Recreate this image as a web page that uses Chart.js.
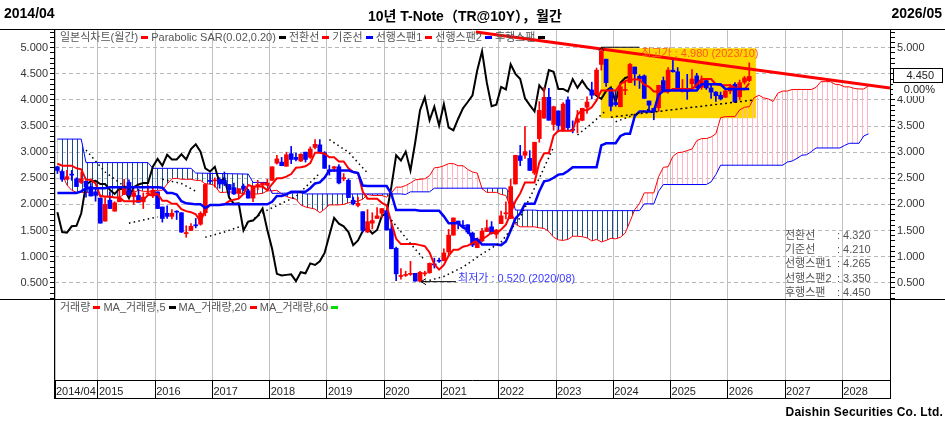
<!DOCTYPE html>
<html lang="ko">
<head>
<meta charset="utf-8">
<title>10년 T-Note 월간</title>
<script src="https://cdn.jsdelivr.net/npm/chart.js@4.4.1/dist/chart.umd.min.js"></script>
<style>
  html, body { margin: 0; padding: 0; background: #fff; }
  body { position: relative; width: 945px; height: 424px; overflow: hidden;
         font-family: "Liberation Sans", "Noto Sans CJK KR", sans-serif; }
  #chart { position: absolute; left: 0; top: 0; }
  .txt { position: absolute; white-space: nowrap; }
  .head { top: 5px; font-size: 14px; font-weight: bold; color: #000; }
  .legend { left: 60px; font-size: 11px; line-height: 13px; color: #555; }
  .legend i { display: inline-block; width: 7px; height: 3px; margin: 0 3px 2px 3px; vertical-align: middle; }
  .ichi { left: 785px; font-size: 11px; line-height: 14.2px; color: #555; }
  .ichi span { display: inline-block; width: 52px; }
</style>
</head>
<body>
<canvas id="chart" width="945" height="424"></canvas>
<div class="txt head" style="left:4px">2014/04</div>
<div class="txt head" style="left:368px">10년 T-Note（TR@10Y），월간</div>
<div class="txt head" style="right:3px">2026/05</div>
<div class="txt legend" id="mainLegend" style="top:31px"></div>
<div class="txt legend" id="volLegend" style="top:301px"></div>
<div class="txt ichi" id="ichiTable" style="top:228px"></div>
<div class="txt" style="right:2px;top:405px;font-size:12px;font-weight:bold;letter-spacing:0.2px">Daishin Securities Co. Ltd.</div>
<script>
// 10년 T-Note monthly chart with Ichimoku cloud

// candles, one per month from 2014/04 to 2026/05
const opens = [
  2.72, 2.63, 2.48, 2.57, 2.49, 2.42, 2.44, 2.34, 2.24,
  2.12, 1.68, 2.08, 1.87, 2.05, 2.19, 2.42, 2.15, 2.17, 2.05, 2.20, 2.16,
  2.24, 1.95, 1.83, 1.77, 1.87, 1.84, 1.44, 1.50, 1.60, 1.62, 1.84, 2.45,
  2.45, 2.48, 2.46, 2.38, 2.32, 2.21, 2.35, 2.26, 2.12, 2.34, 2.37, 2.37,
  2.46, 2.79, 2.81, 2.73, 2.97, 2.90, 2.83, 3.00, 2.90, 3.09, 3.14, 2.99,
  2.66, 2.69, 2.72, 2.49, 2.46, 2.08, 1.98, 1.86, 1.47, 1.64, 1.73, 1.83,
  1.88, 1.53, 1.16, 0.62, 0.64, 0.66, 0.68, 0.53, 0.67, 0.69, 0.86, 0.93,
  0.92, 1.09, 1.41, 1.68, 1.60, 1.61, 1.45, 1.17, 1.30, 1.48, 1.57, 1.43,
  1.63, 1.82, 1.73, 2.39, 2.93, 2.94, 2.88, 2.60, 3.26, 3.65, 4.05, 3.53,
  3.79, 3.41, 4.00, 3.43, 3.57, 3.61, 3.86, 4.19, 4.10, 4.68, 4.78, 4.22,
  3.95, 3.87, 4.18, 4.33, 4.63, 4.45, 4.46, 3.98, 3.84, 3.85, 4.37, 4.19,
  4.57, 4.54, 4.16, 4.17, 4.31, 4.46, 4.24, 4.37, 4.23, 4.15, 4.09, 4.05,
  4.17, 4.30, 4.06, 4.34, 4.37
];
const highs = [
  2.73, 2.66, 2.65, 2.65, 2.51, 2.62, 2.45, 2.40, 2.30,
  2.12, 2.13, 2.24, 2.05, 2.28, 2.48, 2.47, 2.28, 2.29, 2.22, 2.36, 2.32,
  2.24, 1.95, 1.97, 1.90, 1.88, 1.84, 1.59, 1.63, 1.73, 1.86, 2.40, 2.60,
  2.51, 2.51, 2.62, 2.38, 2.41, 2.30, 2.39, 2.29, 2.33, 2.46, 2.41, 2.48,
  2.72, 2.94, 2.90, 3.00, 3.11, 2.98, 2.97, 3.00, 3.10, 3.24, 3.24, 3.01,
  2.75, 2.73, 2.76, 2.59, 2.49, 2.14, 2.14, 1.86, 1.90, 1.84, 1.94, 1.92,
  1.88, 1.63, 1.18, 0.77, 0.72, 0.91, 0.68, 0.72, 0.72, 0.88, 0.97, 0.97,
  1.15, 1.52, 1.74, 1.68, 1.69, 1.61, 1.47, 1.36, 1.54, 1.70, 1.67, 1.52,
  1.87, 2.05, 2.48, 2.94, 3.13, 3.49, 3.03, 3.19, 3.97, 4.24, 4.22, 3.88,
  3.79, 3.95, 4.06, 3.60, 3.80, 3.84, 4.06, 4.34, 4.61, 4.98, 4.78, 4.22,
  4.18, 4.32, 4.34, 4.70, 4.63, 4.48, 4.48, 3.98, 3.84, 4.28, 4.44, 4.62,
  4.79, 4.62, 4.39, 4.49, 4.58, 4.51, 4.46, 4.40, 4.28, 4.16, 4.15, 4.19,
  4.30, 4.33, 4.38, 4.45, 4.71
];
const lows = [
  2.59, 2.44, 2.48, 2.46, 2.34, 2.40, 2.14, 2.16, 2.06,
  1.64, 1.68, 1.92, 1.87, 2.05, 2.19, 2.18, 2.00, 2.04, 1.92, 2.20, 2.13,
  1.92, 1.66, 1.73, 1.72, 1.71, 1.46, 1.37, 1.50, 1.55, 1.60, 1.78, 2.39,
  2.33, 2.31, 2.36, 2.18, 2.19, 2.13, 2.26, 2.12, 2.05, 2.28, 2.31, 2.35,
  2.46, 2.77, 2.74, 2.73, 2.78, 2.83, 2.82, 2.81, 2.88, 3.06, 2.99, 2.69,
  2.56, 2.63, 2.39, 2.45, 2.13, 1.99, 1.95, 1.47, 1.46, 1.53, 1.73, 1.74,
  1.51, 1.15, 0.54, 0.57, 0.62, 0.64, 0.53, 0.52, 0.63, 0.68, 0.78, 0.89,
  0.92, 1.04, 1.41, 1.53, 1.56, 1.44, 1.19, 1.17, 1.28, 1.48, 1.43, 1.35,
  1.63, 1.72, 1.73, 2.39, 2.74, 2.88, 2.65, 2.57, 3.19, 3.65, 3.61, 3.42,
  3.39, 3.40, 3.43, 3.37, 3.37, 3.60, 3.74, 4.02, 4.09, 4.57, 4.26, 3.79,
  3.88, 3.87, 4.10, 4.33, 4.28, 4.22, 4.03, 3.79, 3.62, 3.78, 4.17, 4.13,
  4.53, 4.21, 4.15, 4.01, 4.18, 4.23, 4.20, 4.20, 4.03, 3.97, 4.00, 4.05,
  4.12, 3.95, 4.00, 4.30, 4.35
];
const closes = [
  2.65, 2.48, 2.53, 2.56, 2.34, 2.49, 2.34, 2.16, 2.17,
  1.64, 2.00, 1.92, 2.03, 2.12, 2.35, 2.18, 2.22, 2.04, 2.14, 2.21, 2.27,
  1.92, 1.73, 1.77, 1.83, 1.85, 1.47, 1.46, 1.58, 1.59, 1.83, 2.38, 2.44,
  2.45, 2.39, 2.39, 2.28, 2.20, 2.30, 2.29, 2.12, 2.33, 2.38, 2.41, 2.41,
  2.72, 2.87, 2.74, 2.95, 2.86, 2.86, 2.96, 2.86, 3.06, 3.15, 3.01, 2.69,
  2.63, 2.72, 2.41, 2.51, 2.13, 2.01, 2.02, 1.50, 1.67, 1.69, 1.78, 1.92,
  1.51, 1.15, 0.67, 0.64, 0.65, 0.66, 0.53, 0.70, 0.68, 0.87, 0.84, 0.91,
  1.07, 1.41, 1.74, 1.63, 1.58, 1.47, 1.22, 1.31, 1.49, 1.55, 1.44, 1.51,
  1.78, 1.83, 2.34, 2.94, 2.84, 3.01, 2.65, 3.19, 3.80, 4.05, 3.61, 3.87,
  3.51, 3.92, 3.47, 3.42, 3.64, 3.84, 3.96, 4.09, 4.57, 4.93, 4.33, 3.88,
  3.91, 4.25, 4.20, 4.68, 4.50, 4.40, 4.03, 3.90, 3.78, 4.28, 4.17, 4.57,
  4.54, 4.21, 4.21, 4.16, 4.40, 4.23, 4.37, 4.23, 4.15, 4.08, 4.02, 4.17,
  4.24, 3.96, 4.33, 4.42, 4.45
];

// 전환선 (red) and 기준선 (blue), one value per candle
const conversionLine = [
  2.78, 2.74, 2.74, 2.74, 2.69, 2.67, 2.47, 2.47, 2.40,
  2.15, 2.15, 2.15, 2.13, 2.13, 2.06, 2.06, 2.06, 2.06, 2.08, 2.18, 2.18,
  2.20, 2.07, 2.07, 2.01, 2.01, 1.91, 1.87, 1.85, 1.81, 1.67, 1.89, 1.99,
  1.99, 1.99, 2.00, 2.06, 2.09, 2.11, 2.20, 2.37, 2.34, 2.34, 2.34, 2.27,
  2.39, 2.50, 2.50, 2.53, 2.58, 2.70, 2.71, 2.73, 2.79, 2.99, 2.99, 2.97,
  2.90, 2.90, 2.82, 2.82, 2.69, 2.62, 2.60, 2.24, 2.11, 2.11, 2.11, 2.03,
  1.98, 1.65, 1.34, 1.24, 1.24, 1.24, 1.24, 1.22, 1.20, 1.08, 0.85, 0.75,
  0.84, 1.02, 1.13, 1.13, 1.19, 1.21, 1.26, 1.32, 1.33, 1.39, 1.46, 1.44,
  1.52, 1.61, 1.83, 2.06, 2.21, 2.42, 2.42, 2.42, 2.80, 2.98, 2.98, 3.32,
  3.41, 3.41, 3.41, 3.41, 3.72, 3.81, 3.80, 3.86, 3.99, 4.18, 4.18, 4.18,
  4.18, 4.30, 4.36, 4.39, 4.39, 4.39, 4.29, 4.25, 4.16, 4.16, 4.16, 4.16,
  4.21, 4.21, 4.21, 4.21, 4.21, 4.29, 4.40, 4.40, 4.40, 4.30, 4.28, 4.28,
  4.28, 4.23, 4.21, 4.20, 4.32
];
const baseLine = [
  2.22, 2.22, 2.22, 2.22, 2.22, 2.25, 2.31, 2.31, 2.31,
  2.31, 2.31, 2.33, 2.33, 2.33, 2.33, 2.33, 2.33, 2.33, 2.33, 2.33, 2.33,
  2.33, 2.32, 2.22, 2.22, 2.19, 2.06, 2.02, 2.01, 2.00, 2.00, 1.93, 1.99,
  1.99, 1.99, 2.00, 2.00, 2.00, 2.00, 2.00, 2.00, 2.00, 2.00, 2.00, 2.00,
  2.05, 2.16, 2.16, 2.19, 2.24, 2.24, 2.24, 2.24, 2.31, 2.40, 2.42, 2.51,
  2.65, 2.65, 2.65, 2.65, 2.65, 2.62, 2.60, 2.36, 2.35, 2.35, 2.35, 2.35,
  2.35, 2.20, 1.89, 1.89, 1.89, 1.89, 1.89, 1.88, 1.88, 1.88, 1.88, 1.88,
  1.77, 1.64, 1.64, 1.64, 1.56, 1.51, 1.33, 1.33, 1.23, 1.23, 1.23, 1.23,
  1.22, 1.29, 1.50, 1.73, 1.83, 2.01, 2.01, 2.01, 2.25, 2.44, 2.46, 2.51,
  2.57, 2.58, 2.64, 2.71, 2.71, 2.71, 2.71, 2.71, 2.71, 3.13, 3.17, 3.17,
  3.17, 3.31, 3.35, 3.35, 3.69, 3.78, 3.78, 3.78, 3.78, 4.09, 4.18, 4.18,
  4.18, 4.18, 4.18, 4.18, 4.18, 4.18, 4.30, 4.30, 4.30, 4.30, 4.30, 4.21,
  4.21, 4.21, 4.21, 4.21, 4.21
];
// 선행스팬1 (red thin), months 0..170 (runs 25 months past the last candle)
const leadSpan1 = [
  2.66, 2.58, 2.37, 2.27, 2.23, 2.23, 2.23, 2.23, 2.20, 2.18, 2.15, 2.13, 2.13,
  2.13, 2.20, 2.30, 2.23, 2.27, 2.25, 2.25, 2.25, 2.27, 2.27, 2.39, 2.49,
  2.50, 2.48, 2.48, 2.48, 2.46, 2.46, 2.39, 2.39, 2.36, 2.23, 2.23, 2.24, 2.23,
  2.23, 2.20, 2.20, 2.20, 2.20, 2.21, 2.26, 2.26, 2.27, 2.20, 2.15, 2.12, 2.10,
  1.99, 1.95, 1.93, 1.91, 1.84, 1.91, 1.99, 1.99, 1.99, 2.00, 2.03, 2.05, 2.06,
  2.10, 2.19, 2.17, 2.17, 2.17, 2.14, 2.22, 2.33, 2.33, 2.36, 2.41, 2.47,
  2.48, 2.49, 2.55, 2.70, 2.71, 2.74, 2.78, 2.78, 2.74, 2.74, 2.67, 2.62, 2.60,
  2.30, 2.23, 2.23, 2.23, 2.19, 2.17, 1.93, 1.62, 1.57, 1.57, 1.57, 1.57,
  1.55, 1.54, 1.48, 1.37, 1.32, 1.31, 1.33, 1.39, 1.39, 1.38, 1.36, 1.30, 1.33,
  1.28, 1.31, 1.35, 1.34, 1.37, 1.45, 1.67, 1.90, 2.02, 2.22, 2.22, 2.22,
  2.53, 2.71, 2.72, 2.92, 2.99, 3.00, 3.03, 3.06, 3.22, 3.26, 3.26, 3.29, 3.35,
  3.66, 3.68, 3.68, 3.68, 3.81, 3.86, 3.87, 4.04, 4.09, 4.04, 4.02, 3.97,
  4.13, 4.17, 4.17, 4.20, 4.20, 4.20, 4.20, 4.20, 4.24, 4.35,
  4.35, 4.35, 4.30, 4.29, 4.25, 4.25, 4.22, 4.21, 4.21, 4.27
];
// 선행스팬2 (blue thin), read at its step points
const leadSpan2Months = [0, 5, 6, 19, 20, 28, 29, 40, 41, 44, 45, 51, 52, 72, 73, 74, 78, 79, 94, 95,
  96, 100, 101, 122, 123, 125, 126, 127, 136, 137, 138, 139, 152, 153, 154, 155, 156, 157, 158, 159,
  164, 165, 166, 168, 169, 170];
const leadSpan2Values = [3.25, 3.25, 2.80, 2.80, 2.69, 2.69, 2.60, 2.58, 2.42, 2.42, 2.21, 2.22, 2.20, 2.20, 2.19, 2.24, 2.24, 2.31, 2.31, 2.20,
  1.89, 1.89, 1.88, 1.88, 2.01, 2.01, 2.25, 2.38, 2.38, 2.43, 2.57, 2.75, 2.75, 2.81, 2.83, 2.88, 2.94, 2.95, 3.01, 3.08,
  3.08, 3.13, 3.17, 3.17, 3.31, 3.35];
// 후행스팬: the closes drawn this many months back
const laggingShift = 25;

// Parabolic SAR, dotted runs of [month, value]
const sarRuns = [
  [[6, 3.04], [10, 2.62], [15, 2.28]],
  [[15, 1.64], [18, 1.70], [21, 1.76]],
  [[22, 2.48], [26, 2.40], [29, 2.25]],
  [[31, 1.37], [35, 1.47], [39, 1.60], [44, 1.89], [50, 2.15], [55, 2.60]],
  [[57, 3.24], [61, 3.00], [65, 2.60]],
  [[70, 1.70], [74, 1.25], [77, 0.93]],
  [[77, 0.52], [81, 0.62], [85, 0.80], [89, 1.05], [93, 1.28], [97, 1.75], [101, 2.50], [104, 3.10]],
  [[109, 3.33], [112, 3.55], [115, 3.80]],
  [[117, 3.58], [121, 3.72], [124, 3.82]]
];

// drawn lines and the yellow pattern box
const trendMonths = [87.7, 174.5];
const trendValues = [5.30, 4.23];
const supportMonths = [116, 146];
const supportValues = [3.67, 4.00];
const boxMonths = [113.9, 146.4];
const boxValues = [3.65, 4.99];

// axes
const xTickMonths = [-0.5, 8.5, 20.5, 32.5, 44.5, 56.5, 68.5, 80.5, 92.5, 104.5, 116.5, 128.5, 140.5, 152.5, 164.5];
const xTickLabels = ['2014/04', '2015', '2016', '2017', '2018', '2019', '2020', '2021', '2022', '2023', '2024', '2025', '2026', '2027', '2028'];
const yMajorValues = [0.5, 1.0, 1.5, 2.0, 2.5, 3.0, 3.5, 4.0, 4.5, 5.0];
const yTickLabels = ['0.500', '1.000', '1.500', '2.000', '2.500', '3.000', '3.500', '4.000', '4.500', '5.000'];

// legends and readouts
const mainLegendNames = ['일본식차트(월간)', 'Parabolic SAR(0.02,0.20)', '전환선', '기준선', '선행스팬1', '선행스팬2', '후행스팬'];
const mainLegendColors = ['#ff0000', '#000000', '#ff0000', '#0000ff', '#ff0000', '#0000ff', '#000000'];
const volLegendNames = ['거래량', 'MA_거래량,5', 'MA_거래량,20', 'MA_거래량,60'];
const volLegendColors = ['#ff0000', '#000000', '#ff0000', '#00dd00'];
const ichiNames = ['전환선', '기준선', '선행스팬1', '선행스팬2', '후행스팬'];
const ichiValues = ['4.320', '4.210', '4.265', '3.350', '4.450'];
const priceChange = '0.00%';

const FONT = '"Liberation Sans", "Noto Sans CJK KR", sans-serif';
const RED = '#ff0000', BLUE = '#0000ff';

function fillLegend(id, names, colors) {
  const el = document.getElementById(id);
  names.forEach((n, i) => {
    el.appendChild(document.createTextNode(n));
    const mark = document.createElement('i');
    mark.style.background = colors[i];
    el.appendChild(mark);
  });
}
fillLegend('mainLegend', mainLegendNames, mainLegendColors);
fillLegend('volLegend', volLegendNames, volLegendColors);

const ichiEl = document.getElementById('ichiTable');
ichiNames.forEach((n, i) => {
  const row = document.createElement('div');
  const lab = document.createElement('span');
  lab.textContent = n;
  row.appendChild(lab);
  row.appendChild(document.createTextNode(': ' + ichiValues[i]));
  ichiEl.appendChild(row);
});

function monthLabel(i) {
  const t = 2014 * 12 + 3 + i;
  return Math.floor(t / 12) + '/' + String(t % 12 + 1).padStart(2, '0');
}

const canvas = document.getElementById('chart');
const ctx = canvas.getContext('2d');

function hatch(color) {
  const c = document.createElement('canvas');
  c.width = 5; c.height = 4;
  const g = c.getContext('2d');
  g.fillStyle = color;
  g.fillRect(2, 0, 1, 4);
  return ctx.createPattern(c, 'repeat');
}
const pinkHatch = hatch('#ffb3c3');
const navyHatch = hatch('#1d4f86');

const candleColors = closes.map((c, i) => c >= opens[i] ? RED : BLUE);
const pts = (xs, ys) => xs.map((x, i) => ({ x: x, y: ys[i] }));
const isMajor = v => yMajorValues.some(m => Math.abs(m - v) < 1e-6);

function yTicks(scale) {
  const t = [];
  for (let k = 2; k <= 53; k++) t.push({ value: k / 10 });
  scale.ticks = t;
}
function yLabel(value) {
  const j = yMajorValues.findIndex(m => Math.abs(m - value) < 1e-6);
  return j >= 0 ? yTickLabels[j] : '';
}

const lineBase = { type: 'line', pointRadius: 0, tension: 0, fill: false, xAxisID: 'x', yAxisID: 'y' };

const datasets = [
  Object.assign({}, lineBase, {
    label: '선행스팬1', data: leadSpan1.map((v, i) => ({ x: i, y: v })),
    borderColor: RED, borderWidth: 1, order: 20,
    fill: { target: 1, above: pinkHatch, below: navyHatch }
  }),
  Object.assign({}, lineBase, {
    label: '선행스팬2', data: pts(leadSpan2Months, leadSpan2Values),
    borderColor: BLUE, borderWidth: 1, order: 19
  }),
  Object.assign({}, lineBase, {
    label: '후행스팬', data: closes.slice(laggingShift).map((v, i) => ({ x: i, y: v })),
    borderColor: '#000', borderWidth: 2, order: 15
  }),
  {
    type: 'bar', label: 'wick', xAxisID: 'x', yAxisID: 'y',
    data: highs.map((h, i) => ({ x: i, y: [lows[i], h] })),
    backgroundColor: candleColors, barThickness: 1, grouped: false, order: 12
  },
  {
    type: 'bar', label: 'body', xAxisID: 'x', yAxisID: 'y',
    data: opens.map((o, i) => ({ x: i, y: [o, closes[i]] })),
    backgroundColor: candleColors, barThickness: 4, minBarLength: 1, grouped: false, order: 11
  },
  Object.assign({}, lineBase, {
    label: '전환선', data: conversionLine.map((v, i) => ({ x: i, y: v })),
    borderColor: RED, borderWidth: 2, order: 9
  }),
  Object.assign({}, lineBase, {
    label: '기준선', data: baseLine.map((v, i) => ({ x: i, y: v })),
    borderColor: BLUE, borderWidth: 2.5, order: 8
  }),
  Object.assign({}, lineBase, {
    label: 'support', data: pts(supportMonths, supportValues),
    borderColor: '#000', borderWidth: 1.5, borderDash: [2, 3], order: 6
  }),
  Object.assign({}, lineBase, {
    label: 'trend', data: pts(trendMonths, trendValues),
    borderColor: RED, borderWidth: 3, order: 5
  })
];
sarRuns.forEach(run => {
  datasets.push(Object.assign({}, lineBase, {
    label: 'SAR', data: run.map(p => ({ x: p[0], y: p[1] })),
    borderColor: '#000', borderWidth: 1.5, borderDash: [1.5, 3.3], order: 7
  }));
});

const annotate = {
  id: 'annotate',
  beforeDatasetsDraw(chart) {
    const { ctx, scales: { x, y } } = chart;
    const x0 = x.getPixelForValue(boxMonths[0]), x1 = x.getPixelForValue(boxMonths[1]);
    const y0 = y.getPixelForValue(boxValues[1]), y1 = y.getPixelForValue(boxValues[0]);
    ctx.save();
    ctx.fillStyle = '#ffd600';
    ctx.fillRect(x0, y0, x1 - x0, y1 - y0);
    ctx.restore();
  },
  afterDatasetsDraw(chart) {
    const { ctx, scales: { x, y } } = chart;
    ctx.save();
    ctx.font = '11px ' + FONT;
    ctx.strokeStyle = '#000';
    ctx.lineWidth = 1;

    // 최고가
    const hi = highs.indexOf(Math.max(...highs));
    const hx = x.getPixelForValue(hi), hy = y.getPixelForValue(highs[hi]);
    ctx.beginPath();
    ctx.moveTo(hx, hy - 1.5); ctx.lineTo(hx + 38, hy - 1.5);
    ctx.moveTo(hx - 2.5, hy + 2); ctx.lineTo(hx, hy - 1.5); ctx.lineTo(hx + 2.5, hy + 2);
    ctx.stroke();
    ctx.fillStyle = '#ff5a1e';
    ctx.textBaseline = 'top';
    ctx.fillText('최고가 : ' + highs[hi].toFixed(3) + ' (' + monthLabel(hi) + ')', hx + 40, hy - 0.5);

    // 최저가
    const lo = lows.indexOf(Math.min(...lows));
    const lx = x.getPixelForValue(lo), ly = y.getPixelForValue(lows[lo]);
    ctx.beginPath();
    ctx.moveTo(lx + 1, ly); ctx.lineTo(lx + 36, ly);
    ctx.moveTo(lx + 6, ly - 3); ctx.lineTo(lx + 1, ly); ctx.lineTo(lx + 6, ly + 3);
    ctx.stroke();
    ctx.fillStyle = '#3a3aff';
    ctx.textBaseline = 'middle';
    ctx.fillText('최저가 : ' + lows[lo].toFixed(3) + ' (' + monthLabel(lo) + ')', lx + 38, ly - 3);
    ctx.restore();
  },
  afterDraw(chart) {
    const { ctx, chartArea: a, scales } = chart;
    const yv = scales.yv, xs = scales.x, y = scales.y;
    const W = chart.width;
    ctx.save();
    ctx.strokeStyle = '#000';
    ctx.lineWidth = 1;
    ctx.beginPath();
    ctx.moveTo(0, a.top - 0.5); ctx.lineTo(W, a.top - 0.5);
    ctx.moveTo(0, yv.top + 0.5); ctx.lineTo(W, yv.top + 0.5);
    ctx.moveTo(a.left, a.bottom + 0.5); ctx.lineTo(a.right, a.bottom + 0.5);
    ctx.moveTo(a.left, xs.bottom - 0.5); ctx.lineTo(a.right + 1, xs.bottom - 0.5);
    ctx.moveTo(a.left - 0.5, a.top); ctx.lineTo(a.left - 0.5, xs.bottom);
    ctx.moveTo(a.right + 0.5, a.top); ctx.lineTo(a.right + 0.5, xs.bottom);
    ctx.stroke();

    // current price readout on the right axis
    const last = closes[closes.length - 1];
    const py = Math.round(y.getPixelForValue(last));
    ctx.fillStyle = '#fff';
    ctx.fillRect(a.right + 3, py - 8, 50, 15);
    ctx.fillRect(a.right + 3, py + 8, 50, 12);
    ctx.strokeRect(a.right + 3.5, py - 7.5, 49, 14);
    ctx.fillStyle = '#222';
    ctx.font = '11px ' + FONT;
    ctx.textAlign = 'right';
    ctx.textBaseline = 'middle';
    ctx.fillText(last.toFixed(3), a.right + 44, py);
    ctx.fillText(priceChange, a.right + 45, py + 14);
    ctx.restore();
  }
};

const tickFont = { family: FONT, size: 11 };

new Chart(ctx, {
  type: 'line',
  data: { datasets: datasets },
  plugins: [annotate],
  options: {
    responsive: false,
    animation: false,
    events: [],
    layout: { padding: { top: 30, bottom: 25, left: 0, right: 0 } },
    plugins: { legend: { display: false }, tooltip: { enabled: false } },
    scales: {
      x: {
        type: 'linear', position: 'bottom', min: -0.5, max: 174.5, offset: false,
        afterBuildTicks: s => { s.ticks = xTickMonths.map(v => ({ value: v })); },
        afterFit: s => { s.height = 19; },
        ticks: {
          autoSkip: false, maxRotation: 0, align: 'start', padding: -14, labelOffset: 1,
          color: '#222', font: tickFont,
          callback: (v, i) => xTickLabels[i]
        },
        grid: { offset: false, color: '#c0c0c0', lineWidth: 1, tickColor: '#000', tickLength: 19 },
        border: { display: false }
      },
      y: {
        type: 'linear', position: 'left', stack: 'L', stackWeight: 269, weight: 2,
        min: 0.188, max: 5.339,
        afterBuildTicks: yTicks,
        afterFit: s => { s.width = 55; },
        ticks: { autoSkip: false, padding: 2, color: '#333', font: tickFont, callback: yLabel },
        grid: {
          color: c => (c.tick && isMajor(c.tick.value)) ? '#b8b8b8' : 'rgba(0,0,0,0)',
          tickColor: '#000', tickLength: 5
        },
        border: { display: false, dash: [4, 3] }
      },
      yv: {
        type: 'linear', position: 'left', stack: 'L', stackWeight: 81, weight: 1,
        min: 0, max: 1,
        afterFit: s => { s.width = 55; },
        ticks: { display: false },
        grid: { display: false },
        border: { display: false }
      },
      y2: {
        type: 'linear', position: 'right', stack: 'R', stackWeight: 269, weight: 1,
        min: 0.188, max: 5.339,
        afterBuildTicks: yTicks,
        afterFit: s => { s.width = 55; },
        ticks: { autoSkip: false, padding: 2, color: '#333', font: tickFont, callback: yLabel },
        grid: { drawOnChartArea: false, tickColor: '#000', tickLength: 5 },
        border: { display: false }
      },
      yv2: {
        type: 'linear', position: 'right', stack: 'R', stackWeight: 81, weight: 2,
        min: 0, max: 1,
        afterFit: s => { s.width = 55; },
        ticks: { display: false },
        grid: { display: false },
        border: { display: false }
      }
    }
  }
});
</script>
</body>
</html>
